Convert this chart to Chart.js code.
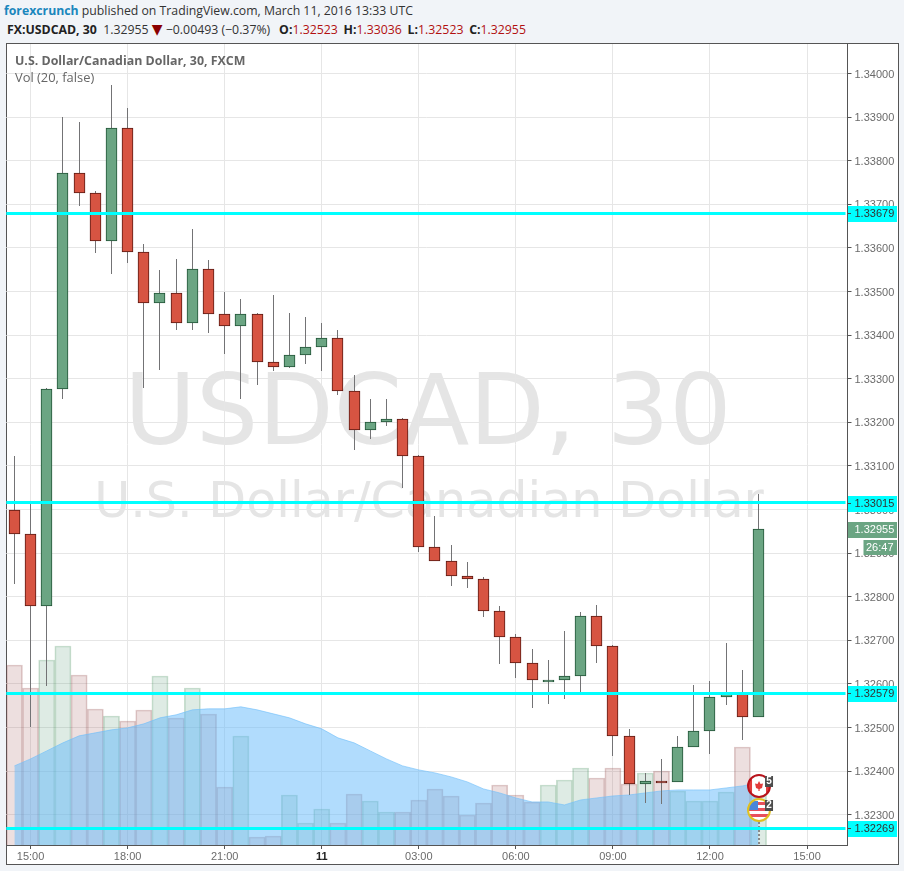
<!DOCTYPE html>
<html>
<head>
<meta charset="utf-8">
<title>USDCAD, 30</title>
<script src="https://cdn.jsdelivr.net/npm/chart.js@4/dist/chart.umd.min.js"></script>
<style>
    html, body { margin: 0; padding: 0; background: #f1f4f8; overflow: hidden; }
    #pagina { position: relative; width: 904px; height: 871px; font-family: "Open Sans", sans-serif; }
    #publicado { position: absolute; left: 4px; top: 2px; font-size: 12.27px; line-height: 18px; color: #333; white-space: nowrap; }
    #publicado b { color: #1a87bd; font-weight: 700; }
    #cotizacion { position: absolute; left: 7px; top: 21px; font-size: 12.3px; line-height: 18px; color: #333; white-space: nowrap; }
    #cotizacion b { color: #222; font-weight: 700; }
    #cotizacion b.sep { margin-left: 2.5px; }
    #cotizacion span { color: #b21010; }
    #cotizacion i { font-style: normal; font-family: "DejaVu Sans"; color: #8b0000; font-size: 14px; line-height: 14px; }
    #marco { position: absolute; left: 6px; top: 43px; width: 891px; height: 820px; background: #fff; border: 1px solid #555; }
    #marca1 { position: absolute; left: 0; width: 856px; top: 350px; text-align: center; font-family: "DejaVu Sans"; font-size: 98px; line-height: 120px; color: #e5e5e5; white-space: nowrap; }
    #marca2 { position: absolute; left: 0; width: 858px; top: 470px; text-align: center; font-family: "DejaVu Sans"; font-size: 49.2px; line-height: 60px; color: #e5e5e5; white-space: nowrap; }
    #titulo { position: absolute; left: 15px; top: 52px; font-size: 12.4px; line-height: 17px; font-weight: 700; color: #666; white-space: nowrap; }
    #vol { position: absolute; left: 15px; top: 69px; font-size: 12.9px; line-height: 17px; color: #666; white-space: nowrap; }
    canvas { position: absolute; left: 0; top: 0; }
</style>
</head>
<body>
<div id="pagina">
    <div id="publicado"><b>forexcrunch</b> published on TradingView.com, March 11, 2016 13:33 UTC</div>
    <div id="cotizacion"><b>FX:USDCAD, 30</b>&nbsp; 1.32955 <i>▼</i> −0.00493 (−0.37%)&nbsp; <b class="sep">O:</b><span>1.32523</span> <b class="sep">H:</b><span>1.33036</span> <b class="sep">L:</b><span>1.32523</span> <b class="sep">C:</b><span>1.32955</span></div>
    <div id="marco"></div>
    <div id="marca1">USDCAD, 30</div>
    <div id="marca2">U.S. Dollar/Canadian Dollar</div>
    <canvas id="grafico" width="904" height="871"></canvas>
    <div id="titulo">U.S. Dollar/Canadian Dollar, 30, FXCM</div>
    <div id="vol">Vol (20, false)</div>
</div>
<script>
// one label per 30 minute bar, the last ones are empty space to the right
const horas = ['14:30', '15:00', '15:30', '16:00', '16:30', '17:00', '17:30', '18:00', '18:30', '19:00', '19:30', '20:00', '20:30',
    '21:00', '21:30', '22:00', '22:30', '23:00', '23:30', '11', '00:30', '01:00', '01:30', '02:00', '02:30', '03:00', '03:30',
    '04:00', '04:30', '05:00', '05:30', '06:00', '06:30', '07:00', '07:30', '08:00', '08:30', '09:00', '09:30', '10:00', '10:30',
    '11:00', '11:30', '12:00', '12:30', '13:00', '13:30', '14:00', '14:30 ', '15:00 ', '15:30 ', '16:00 '];
const etiquetasHora = ['15:00', '18:00', '21:00', '11', '03:00', '06:00', '09:00', '12:00', '15:00 '];
const etiquetasPrecio = [1.323, 1.324, 1.325, 1.326, 1.327, 1.328, 1.329, 1.330, 1.331, 1.332, 1.333, 1.334, 1.335, 1.336, 1.337, 1.338, 1.339, 1.340];

const aperturas = [1.33000, 1.32943, 1.32779, 1.33276, 1.33771, 1.33725, 1.33617, 1.33874, 1.33590, 1.33473, 1.33496, 1.33427,
    1.33551, 1.33448, 1.33422, 1.33448, 1.33338, 1.33328, 1.33354, 1.33372, 1.33393, 1.33271, 1.33182, 1.33200, 1.33207, 1.33122,
    1.32913, 1.32881, 1.32847, 1.32840, 1.32768, 1.32707, 1.32647, 1.32608, 1.32610, 1.32617, 1.32755, 1.32686, 1.32480, 1.32370,
    1.32377, 1.32375, 1.32455, 1.32491, 1.32569, 1.32577, 1.32523];
const maximos = [1.33123, 1.33015, 1.33279, 1.33900, 1.33889, 1.33730, 1.33974, 1.33921, 1.33609, 1.33549, 1.33575, 1.33643,
    1.33572, 1.33500, 1.33483, 1.33451, 1.33492, 1.33451, 1.33442, 1.33428, 1.33412, 1.33308, 1.33253, 1.33253, 1.33211, 1.33125,
    1.32985, 1.32919, 1.32880, 1.32845, 1.32779, 1.32714, 1.32679, 1.32654, 1.32721, 1.32764, 1.32781, 1.32689, 1.32496, 1.32395,
    1.32427, 1.32480, 1.32597, 1.32607, 1.32694, 1.32632, 1.33036];
const minimos = [1.32830, 1.32502, 1.32596, 1.33254, 1.33697, 1.33589, 1.33541, 1.33566, 1.33279, 1.33321, 1.33412, 1.33412,
    1.33405, 1.33357, 1.33254, 1.33286, 1.33318, 1.33324, 1.33334, 1.33318, 1.33263, 1.33137, 1.33162, 1.33192, 1.33050, 1.32903,
    1.32881, 1.32825, 1.32821, 1.32754, 1.32646, 1.32614, 1.32545, 1.32555, 1.32566, 1.32582, 1.32649, 1.32435, 1.32346, 1.32327,
    1.32325, 1.32375, 1.32455, 1.32440, 1.32552, 1.32471, 1.32523];
const cierres = [1.32943, 1.32779, 1.33276, 1.33771, 1.33725, 1.33617, 1.33874, 1.33590, 1.33473, 1.33496, 1.33427, 1.33551,
    1.33448, 1.33422, 1.33448, 1.33338, 1.33328, 1.33354, 1.33372, 1.33393, 1.33271, 1.33182, 1.33200, 1.33207, 1.33122, 1.32913,
    1.32881, 1.32847, 1.32840, 1.32768, 1.32707, 1.32647, 1.32608, 1.32610, 1.32617, 1.32755, 1.32686, 1.32480, 1.32370, 1.32377,
    1.32375, 1.32455, 1.32491, 1.32569, 1.32577, 1.32523, 1.32955];
const volumenes = [180, 157, 185, 199, 170, 136, 129, 124, 135, 169, 127, 157, 131, 58, 109, 8, 9, 50, 22, 36, 22, 51, 44, 33, 33,
    45, 56, 49, 30, 42, 60, 50, 43, 60, 65, 77, 67, 77, 61, 72, 74, 54, 44, 44, 53, 98, 50];
const mediaVolumen = [79, 86, 94, 102, 109, 112, 115, 117, 121, 127, 130, 135, 136, 136, 138, 135, 131, 127, 121, 116, 107, 102, 94,
    86, 79, 75, 72, 68, 63, 56, 52, 47, 43, 43, 40, 45, 47, 49, 50, 52, 54, 55, 55, 55, 57, 59, 62];
const nivelesCian = [1.33679, 1.33015, 1.32579, 1.32269];
const ultimoPrecio = 1.32955;
const cuentaAtras = '26:47';

const sube = aperturas.map(function(a, i) { return cierres[i] >= a; });

function dibujarBandera(ctx, cx, cy, tipo, numero) {
    ctx.save();
    ctx.beginPath();
    ctx.arc(cx, cy, 11, 0, Math.PI * 2);
    ctx.fillStyle = '#fff';
    ctx.fill();
    ctx.save();
    ctx.clip();
    if (tipo === 'ca') {
        ctx.fillStyle = '#e23b3b';
        ctx.fillRect(cx - 11, cy - 11, 4, 22);
        ctx.fillRect(cx + 7, cy - 11, 4, 22);
        ctx.beginPath();
        ctx.moveTo(cx, cy - 5);
        ctx.lineTo(cx + 1.5, cy - 2);
        ctx.lineTo(cx + 4, cy - 2.5);
        ctx.lineTo(cx + 3, cy + 2);
        ctx.lineTo(cx + 0.6, cy + 3);
        ctx.lineTo(cx + 0.6, cy + 5);
        ctx.lineTo(cx - 0.6, cy + 5);
        ctx.lineTo(cx - 0.6, cy + 3);
        ctx.lineTo(cx - 3, cy + 2);
        ctx.lineTo(cx - 4, cy - 2.5);
        ctx.lineTo(cx - 1.5, cy - 2);
        ctx.closePath();
        ctx.fill();
    } else {
        ctx.fillStyle = '#e8505b';
        ctx.fillRect(cx - 11, cy - 8, 22, 3);
        ctx.fillRect(cx - 11, cy - 2, 22, 3);
        ctx.fillRect(cx - 11, cy + 4, 22, 3);
        ctx.fillStyle = '#4a86d8';
        ctx.fillRect(cx - 11, cy - 9, 10, 9);
    }
    ctx.restore();
    ctx.beginPath();
    ctx.arc(cx, cy, 11, 0, Math.PI * 2);
    ctx.lineWidth = 2;
    ctx.strokeStyle = tipo === 'ca' ? '#b8141c' : '#e0c020';
    ctx.stroke();
    ctx.fillStyle = '#4d4d4d';
    ctx.fillRect(cx + 6, cy - 10, 8, 11);
    ctx.fillStyle = '#fff';
    ctx.font = 'bold 10px "Liberation Sans"';
    ctx.textAlign = 'center';
    ctx.textBaseline = 'middle';
    ctx.fillText(numero, cx + 10, cy - 4.5);
    ctx.restore();
}

const capas = {
    id: 'capas',
    // the candles sit on whole pixels so bodies and wicks stay sharp
    beforeDatasetsDraw: function(chart) {
        [0, 1, 3].forEach(function(d) {
            chart.getDatasetMeta(d).data.forEach(function(barra) {
                barra.y = Math.round(barra.y);
                barra.base = Math.round(barra.base);
                if (d === 3) return;
                barra.x = Math.floor(barra.x) + 0.5;
                if (d === 0 && Math.abs(barra.y - barra.base) < 2) barra.base = barra.y + 2;
            });
        });
    },
    afterDatasetsDraw: function(chart) {
        var ctx = chart.ctx;
        var area = chart.chartArea;
        var ejeY = chart.scales.y;
        var ejeX = chart.scales.x;

        // dashed marker below the event flags
        var xUltima = ejeX.getPixelForValue(aperturas.length - 1) + 0.5;
        ctx.save();
        ctx.strokeStyle = '#888';
        ctx.lineWidth = 2;
        ctx.setLineDash([2, 2]);
        ctx.beginPath();
        ctx.moveTo(xUltima, area.bottom - 23);
        ctx.lineTo(xUltima, area.bottom);
        ctx.stroke();
        ctx.restore();

        nivelesCian.forEach(function(nivel) {
            ctx.fillStyle = '#00ffff';
            ctx.fillRect(area.left, Math.round(ejeY.getPixelForValue(nivel) - 0.5) - 1, area.right - area.left - 2, 3);
        });

        dibujarBandera(ctx, xUltima, area.bottom - 59, 'ca', '5');
        dibujarBandera(ctx, xUltima, area.bottom - 35, 'us', '2');

        ctx.font = '11px "Liberation Sans"';
        ctx.textBaseline = 'middle';
        ctx.textAlign = 'left';
        nivelesCian.forEach(function(nivel) {
            var y = Math.round(ejeY.getPixelForValue(nivel));
            ctx.fillStyle = '#00ffff';
            ctx.fillRect(area.right + 0.5, y - 7, 49, 16);
            ctx.fillStyle = '#444';
            ctx.fillRect(area.right + 0.5, y, 3, 1);
            ctx.fillStyle = '#333';
            ctx.fillText(nivel.toFixed(5), area.right + 7, y + 1);
        });

        var yPrecio = Math.round(ejeY.getPixelForValue(ultimoPrecio));
        ctx.fillStyle = '#6ba583';
        ctx.fillRect(area.right + 0.5, yPrecio - 7, 49, 16);
        ctx.fillRect(area.right + 16, yPrecio + 11, 33.5, 15);
        ctx.fillStyle = '#fff';
        ctx.fillText(ultimoPrecio.toFixed(5), area.right + 7, yPrecio + 1);
        ctx.fillText(cuentaAtras, area.right + 18.5, yPrecio + 19);
    }
};

new Chart(document.getElementById('grafico'), {
    type: 'bar',
    data: {
        labels: horas,
        datasets: [
            {
                type: 'bar',
                yAxisID: 'y',
                order: 1,
                grouped: false,
                barThickness: 11,
                borderWidth: 1,
                borderSkipped: false,
                data: aperturas.map(function(a, i) { return [a, cierres[i]]; }),
                backgroundColor: sube.map(function(s) { return s ? '#6ba583' : '#d75442'; }),
                borderColor: sube.map(function(s) { return s ? '#225437' : '#5b1a13'; })
            },
            {
                type: 'bar',
                yAxisID: 'y',
                order: 2,
                grouped: false,
                barThickness: 1,
                borderWidth: 0,
                inflateAmount: 0,
                data: minimos.map(function(m, i) { return [m, maximos[i]]; }),
                backgroundColor: '#737375'
            },
            {
                type: 'line',
                yAxisID: 'yVol',
                order: 3,
                data: mediaVolumen,
                fill: 'origin',
                tension: 0,
                pointRadius: 0,
                borderWidth: 1,
                borderColor: 'rgba(110,190,250,0.6)',
                backgroundColor: 'rgba(100,185,252,0.5)'
            },
            {
                type: 'bar',
                yAxisID: 'yVol',
                order: 4,
                grouped: false,
                barPercentage: 1,
                categoryPercentage: 1,
                borderWidth: 1,
                borderSkipped: 'bottom',
                data: volumenes,
                backgroundColor: sube.map(function(s) { return s ? 'rgba(107,165,131,0.22)' : 'rgba(164,96,96,0.2)'; }),
                borderColor: sube.map(function(s) { return s ? 'rgba(80,150,100,0.3)' : 'rgba(150,80,80,0.3)'; })
            }
        ]
    },
    options: {
        responsive: false,
        animation: false,
        layout: { padding: { left: 6.3, top: 44, right: 7, bottom: 7 } },
        plugins: { legend: { display: false }, tooltip: { enabled: false } },
        scales: {
            x: {
                type: 'category',
                offset: true,
                afterBuildTicks: function(eje) {
                    eje.ticks = eje.ticks.filter(function(t) { return etiquetasHora.indexOf(horas[t.value]) !== -1; });
                },
                afterFit: function(eje) { eje.height = 19; },
                grid: { offset: false, color: '#e6e6e6', tickColor: '#555', tickLength: 4 },
                border: { color: '#555', width: 1 },
                ticks: {
                    autoSkip: false,
                    maxRotation: 0,
                    padding: 1,
                    callback: function(valor) { return horas[valor].trim(); },
                    color: function(c) { return c.tick.label === '11' ? '#222' : '#6b6b6b'; },
                    font: function(c) {
                        return { family: '"Liberation Sans"', size: 11, weight: c.tick.label === '11' ? 'bold' : 'normal' };
                    }
                }
            },
            y: {
                position: 'right',
                min: 1.322305,
                max: 1.340677,
                afterBuildTicks: function(eje) {
                    eje.ticks = etiquetasPrecio.map(function(v) { return { value: v }; });
                },
                afterFit: function(eje) { eje.width = 49.5; },
                grid: { color: '#e6e6e6', tickColor: '#555', tickLength: 4 },
                border: { color: '#555', width: 1 },
                ticks: {
                    padding: 3,
                    labelOffset: 1,
                    color: '#6b6b6b',
                    font: { family: '"Liberation Sans"', size: 11 },
                    callback: function(valor) { return valor.toFixed(5); }
                }
            },
            yVol: {
                display: false,
                min: 0,
                max: 800
            }
        }
    },
    plugins: [capas]
});
</script>
</body>
</html>
